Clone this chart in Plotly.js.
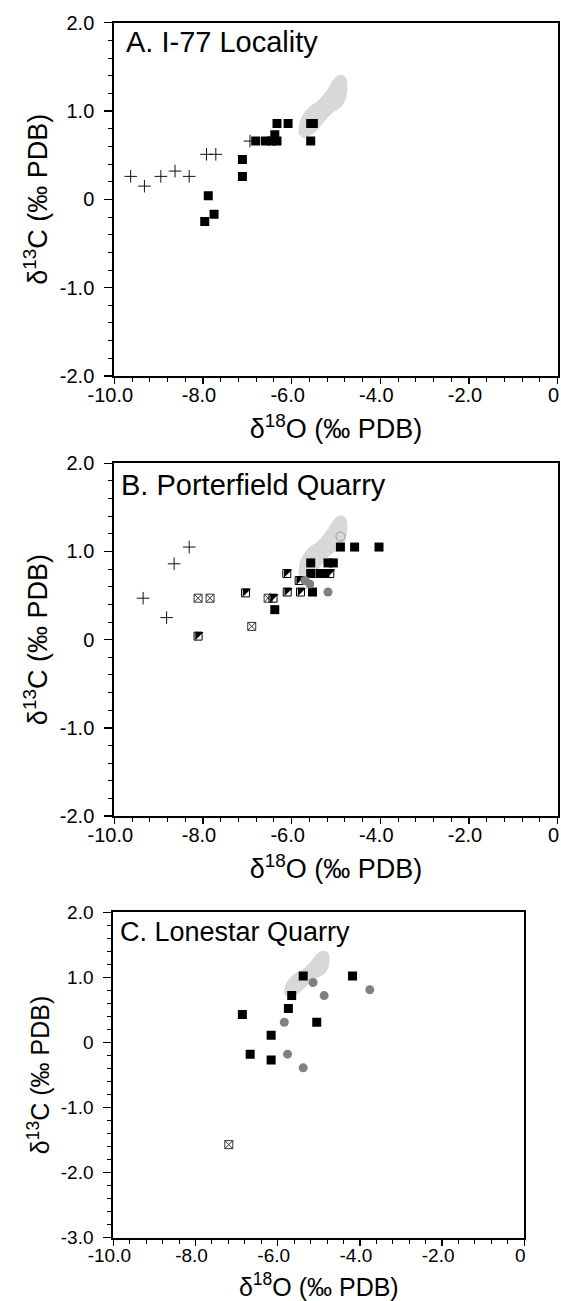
<!DOCTYPE html>
<html><head><meta charset="utf-8"><script src="https://cdn.plot.ly/plotly-3.0.1.min.js"></script></head>
<body style="margin:0;background:#fff">
<div id="g" style="width:561px;height:1301px"></div>
<script>
// ---- data ----
const xTickVals = [-10, -8, -6, -4, -2, 0];
const xTickText = ['-10.0', '-8.0', '-6.0', '-4.0', '-2.0', '0'];
const yTickValsAB = [2, 1, 0, -1, -2];
const yTickTextAB = ['2.0', '1.0', '0', '-1.0', '-2.0'];
const yTickValsC = [2, 1, 0, -1, -2, -3];
const yTickTextC = ['2.0', '1.0', '0', '-1.0', '-2.0', '-3.0'];
const panelLabels = ['A. I-77 Locality', 'B. Porterfield Quarry', 'C. Lonestar Quarry'];

// reference field (grey area)
const fieldX = [-5.85, -5.80, -5.62, -5.40, -5.20, -5.05, -4.90, -4.77, -4.76, -4.86, -5.10, -5.32, -5.52, -5.72];
const fieldY = [0.74, 0.90, 1.04, 1.12, 1.24, 1.36, 1.41, 1.37, 1.18, 1.06, 0.97, 0.85, 0.74, 0.69];

// A. I-77 Locality
const aPlusX = [-9.63, -9.32, -8.95, -8.63, -8.31, -7.92, -7.71, -6.94];
const aPlusY = [0.26, 0.15, 0.26, 0.32, 0.26, 0.51, 0.51, 0.66];
const aSqX = [-7.96, -7.88, -7.75, -7.11, -7.11, -6.81, -6.59, -6.45, -6.38, -6.33, -6.33, -6.08, -5.57, -5.51, -5.57];
const aSqY = [-0.25, 0.04, -0.17, 0.45, 0.26, 0.66, 0.66, 0.66, 0.73, 0.66, 0.86, 0.86, 0.86, 0.86, 0.66];

// B. Porterfield Quarry
const bPlusX = [-9.35, -8.82, -8.65, -8.31];
const bPlusY = [0.47, 0.25, 0.86, 1.05];
const bXSqX = [-8.11, -7.84, -6.90, -6.53];
const bXSqY = [0.47, 0.47, 0.15, 0.47];
const bHalfX = [-8.11, -7.04, -6.42, -6.11, -6.10, -5.80, -5.83, -5.14];
const bHalfY = [0.04, 0.53, 0.47, 0.75, 0.54, 0.54, 0.67, 0.75];
const bSqX = [-6.38, -5.57, -5.57, -5.36, -5.25, -5.53, -5.18, -5.06, -4.90, -4.58, -4.03];
const bSqY = [0.34, 0.87, 0.75, 0.75, 0.75, 0.54, 0.87, 0.87, 1.05, 1.05, 1.05];
const bCircX = [-5.70, -5.59, -5.18];
const bCircY = [0.67, 0.63, 0.54];
const bOpenX = [-4.90];
const bOpenY = [1.17];

// C. Lonestar Quarry
const cSqX = [-5.38, -4.18, -5.66, -5.74, -6.86, -5.05, -6.16, -6.67, -6.16];
const cSqY = [1.02, 1.02, 0.72, 0.52, 0.43, 0.31, 0.11, -0.18, -0.27];
const cCircX = [-5.14, -4.87, -3.76, -5.84, -5.76, -5.38];
const cCircY = [0.92, 0.72, 0.81, 0.31, -0.18, -0.39];
const cXSqX = [-7.19];
const cXSqY = [-1.57];

// ---- styles ----
const FONT = 'Liberation Sans, Arial, Helvetica, sans-serif';
const SQ = 9, HS = 8;
function field(xa, ya) {
  return {x: fieldX, y: fieldY, xaxis: xa, yaxis: ya, mode: 'lines', fill: 'toself',
    fillcolor: '#d8d8d8', line: {width: 0, shape: 'spline', smoothing: 1.1, color: '#d8d8d8'}, hoverinfo: 'skip'};
}
function plus(x, y, xa, ya) {
  return {x, y, xaxis: xa, yaxis: ya, mode: 'markers',
    marker: {symbol: 'cross-thin-open', size: 9, color: '#111', line: {width: 1, color: '#111'}}};
}
function sq(x, y, xa, ya) {
  return {x, y, xaxis: xa, yaxis: ya, mode: 'markers',
    marker: {symbol: 'square', size: SQ, color: '#000', line: {width: 0}}};
}
function xsq(x, y, xa, ya) {
  return {x, y, xaxis: xa, yaxis: ya, mode: 'markers',
    marker: {symbol: 'square-x-open', size: 8, color: '#333', line: {width: 1, color: '#333'}}};
}
function halfTri(x, y, xa, ya) {
  return {x, y, xaxis: xa, yaxis: ya, mode: 'markers',
    marker: {symbol: 'triangle-se', angle: 180, standoff: HS / 6, size: HS * 1.155, color: '#000', line: {width: 0}}};
}
function halfBox(x, y, xa, ya) {
  return {x, y, xaxis: xa, yaxis: ya, mode: 'markers',
    marker: {symbol: 'square-open', size: HS, color: '#000', line: {width: 1, color: '#000'}}};
}
function circ(x, y, xa, ya) {
  return {x, y, xaxis: xa, yaxis: ya, mode: 'markers',
    marker: {symbol: 'circle', size: 9, color: '#808080', line: {width: 0}}};
}
function ocirc(x, y, xa, ya) {
  return {x, y, xaxis: xa, yaxis: ya, mode: 'markers',
    marker: {symbol: 'circle-open', size: 9, color: '#999', line: {width: 1, color: '#999'}}};
}

const traces = [
  field('x', 'y'), plus(aPlusX, aPlusY, 'x', 'y'), sq(aSqX, aSqY, 'x', 'y'),
  field('x2', 'y2'), plus(bPlusX, bPlusY, 'x2', 'y2'), xsq(bXSqX, bXSqY, 'x2', 'y2'),
  halfBox(bHalfX, bHalfY, 'x2', 'y2'), halfTri(bHalfX, bHalfY, 'x2', 'y2'),
  sq(bSqX, bSqY, 'x2', 'y2'), circ(bCircX, bCircY, 'x2', 'y2'), ocirc(bOpenX, bOpenY, 'x2', 'y2'),
  field('x3', 'y3'), sq(cSqX, cSqY, 'x3', 'y3'), circ(cCircX, cCircY, 'x3', 'y3'), xsq(cXSqX, cXSqY, 'x3', 'y3')
];

function xAxis(domain, anchor, fs, tfs) {
  return {domain, anchor, range: [-10, 0], tickmode: 'array', tickvals: xTickVals, ticktext: xTickText,
    showgrid: false, zeroline: false, showline: true, mirror: true, linecolor: '#000', linewidth: 2,
    ticks: 'outside', ticklen: 6, tickwidth: 1.5, tickcolor: '#000',
    ticklabeloverflow: 'allow', ticklabelshift: -4, ticklabelstandoff: -6,
    minor: {tickmode: 'linear', tick0: 0, dtick: 0.4, ticks: 'outside', ticklen: 4, tickwidth: 1, tickcolor: '#000'},
    tickfont: {family: FONT, size: fs, color: '#000'},
    title: {text: 'δ<sup>18</sup>O (‰ PDB)', font: {family: FONT, size: tfs, color: '#000'}, standoff: 14}};
}
function yAxis(domain, anchor, range, vals, text, fs, tfs) {
  return {domain, anchor, range, tickmode: 'array', tickvals: vals, ticktext: text,
    showgrid: false, zeroline: false, showline: true, mirror: true, linecolor: '#000', linewidth: 2,
    ticks: 'outside', ticklen: 8, tickwidth: 1.5, tickcolor: '#000', ticklabelstandoff: 6,
    ticklabeloverflow: 'allow',
    minor: {tickmode: 'linear', tick0: 0, dtick: 0.2, ticks: 'outside', ticklen: 4, tickwidth: 1, tickcolor: '#000'},
    tickfont: {family: FONT, size: fs, color: '#000'},
    title: {text: 'δ<sup>13</sup>C (‰ PDB)', font: {family: FONT, size: tfs, color: '#000'}, standoff: 4}};
}

const layout = {
  width: 561, height: 1301, margin: {l: 0, r: 0, t: 0, b: 0}, showlegend: false,
  paper_bgcolor: '#fff', plot_bgcolor: '#fff',
  xaxis: xAxis([0.2037, 0.9941], 'y', 20, 27),
  yaxis: yAxis([0.7110, 0.98255], 'x', [-2, 2], yTickValsAB, yTickTextAB, 20, 27),
  xaxis2: xAxis([0.2037, 0.9941], 'y2', 20, 27),
  yaxis2: yAxis([0.3728, 0.6439], 'x2', [-2, 2], yTickValsAB, yTickTextAB, 20, 27),
  xaxis3: xAxis([0.2020, 0.9346], 'y3', 19, 25),
  yaxis3: yAxis([0.04866, 0.2988], 'x3', [-3, 2], yTickValsC, yTickTextC, 19, 25),
  annotations: [
    {text: panelLabels[0], xref: 'x domain', yref: 'y domain', x: 0.022, y: 0.945, xanchor: 'left', yanchor: 'middle', showarrow: false, font: {family: FONT, size: 29, color: '#000'}},
    {text: panelLabels[1], xref: 'x2 domain', yref: 'y2 domain', x: 0.011, y: 0.938, xanchor: 'left', yanchor: 'middle', showarrow: false, font: {family: FONT, size: 29, color: '#000'}},
    {text: panelLabels[2], xref: 'x3 domain', yref: 'y3 domain', x: 0.012, y: 0.940, xanchor: 'left', yanchor: 'middle', showarrow: false, font: {family: FONT, size: 27, color: '#000'}}
  ]
};
Plotly.newPlot('g', traces, layout, {displayModeBar: false, staticPlot: true});
</script></body></html>
